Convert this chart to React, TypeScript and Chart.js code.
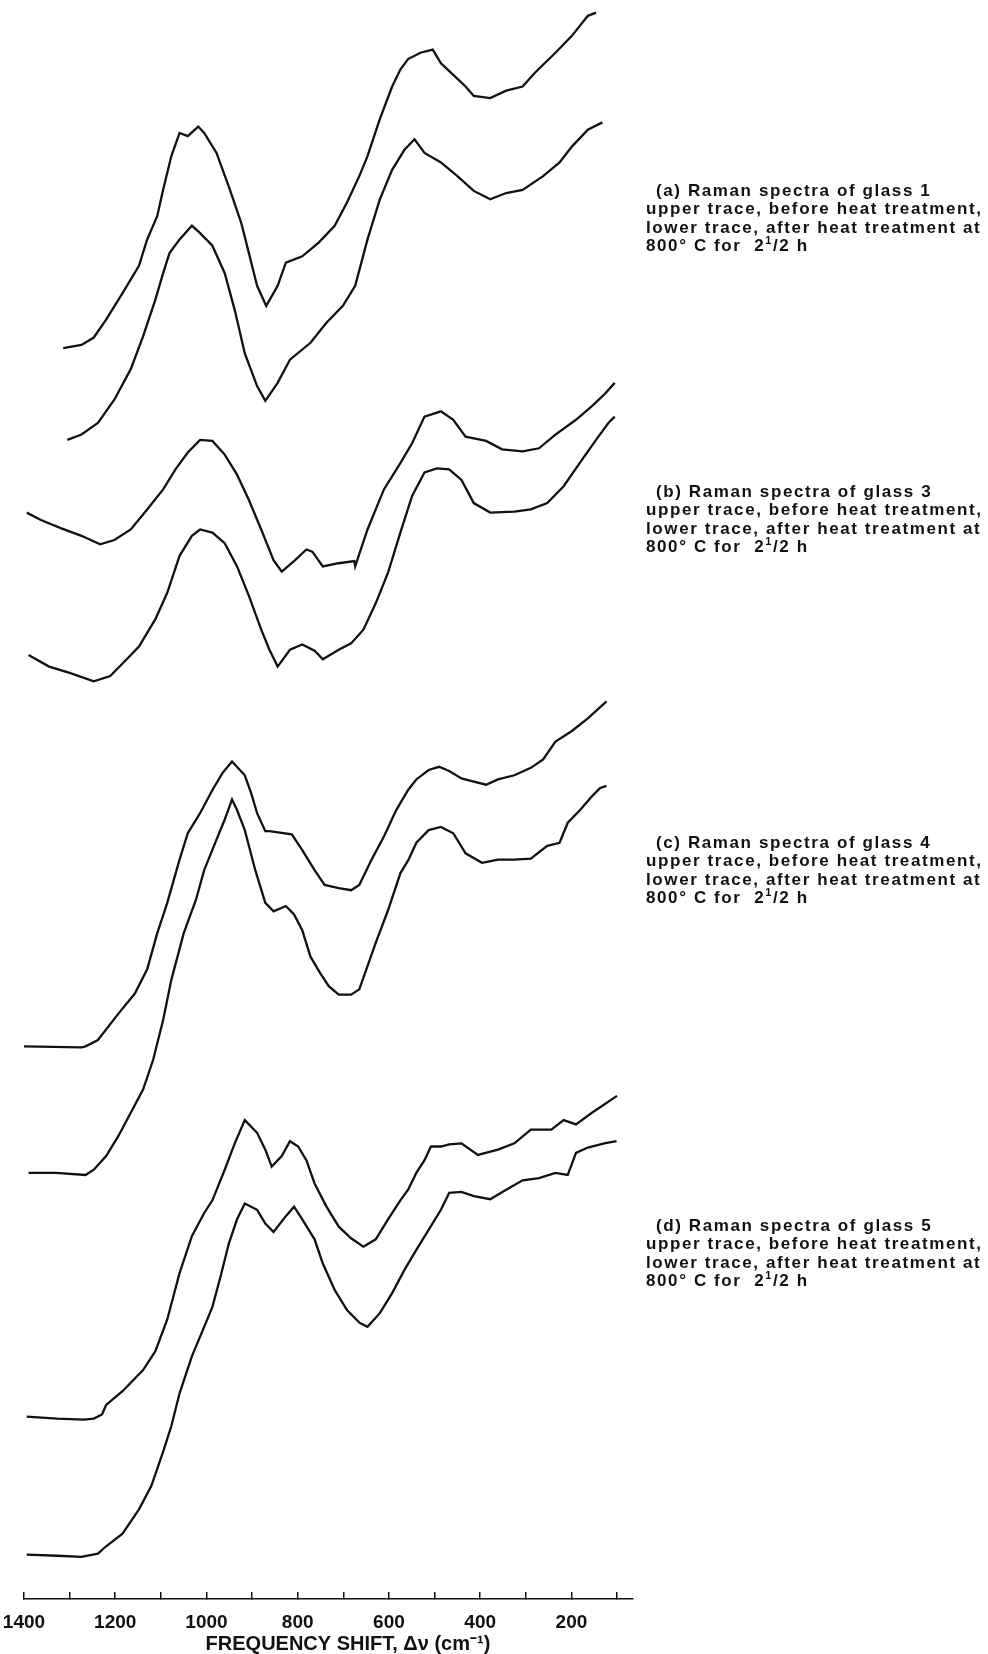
import React, { useEffect, useRef } from 'react';
import { Chart, registerables } from 'chart.js';

Chart.register(...registerables);

// Raman shift (cm^-1) vs. intensity (arbitrary units, traces offset vertically)
const GLASS1_BEFORE: [number, number][] = [[1314,1186],[1274,1189],[1247,1196],[1220,1213],[1184,1238],[1148,1264],[1130,1289],[1108,1311],[1095,1336],[1077,1368],[1059,1390],[1041,1387],[1018,1396],[1005,1390],[978,1371],[951,1339],[924,1305],[907,1276],[889,1245],[869,1226],[844,1245],[826,1267],[790,1273],[754,1286],[719,1302],[692,1324],[665,1349],[647,1368],[620,1403],[593,1434],[575,1450],[558,1460],[531,1466],[504,1469],[486,1456],[459,1445],[432,1434],[414,1425],[378,1423],[343,1430],[307,1434],[280,1447],[235,1466],[199,1482],[164,1501],[146,1504]];
const GLASS1_AFTER: [number, number][] = [[1305,1099],[1274,1104],[1238,1115],[1202,1137],[1166,1166],[1139,1197],[1112,1232],[1095,1257],[1081,1276],[1059,1289],[1032,1302],[1014,1295],[987,1283],[960,1257],[938,1222],[916,1181],[889,1150],[871,1136],[844,1153],[817,1175],[772,1191],[737,1210],[701,1226],[674,1245],[647,1289],[620,1327],[593,1355],[566,1374],[544,1384],[522,1371],[486,1362],[450,1349],[414,1335],[378,1327],[343,1333],[307,1336],[262,1349],[226,1362],[199,1377],[164,1393],[132,1400]];
const GLASS3_BEFORE: [number, number][] = [[1394,1030],[1363,1023],[1318,1015],[1274,1008],[1233,1000],[1202,1004],[1166,1014],[1130,1033],[1095,1052],[1068,1071],[1041,1087],[1014,1099],[987,1098],[960,1085],[933,1066],[907,1042],[880,1014],[853,985],[835,974],[808,984],[781,995],[768,993],[745,979],[710,982],[676,984],[674,979],[647,1014],[611,1052],[575,1077],[549,1096],[522,1121],[486,1126],[459,1118],[432,1102],[387,1098],[352,1090],[307,1088],[271,1091],[235,1104],[190,1118],[155,1131],[128,1142],[105,1153]];
const GLASS3_AFTER: [number, number][] = [[1390,895],[1345,884],[1300,878],[1247,870],[1211,875],[1184,887],[1148,903],[1112,929],[1086,954],[1059,989],[1032,1008],[1014,1014],[987,1011],[960,1001],[933,979],[907,951],[880,919],[862,900],[844,884],[817,900],[790,905],[763,899],[745,891],[710,900],[683,906],[656,919],[629,944],[602,973],[575,1011],[549,1046],[522,1068],[495,1072],[468,1071],[441,1061],[414,1039],[378,1030],[325,1031],[289,1033],[253,1039],[217,1055],[182,1077],[146,1099],[119,1115],[105,1121]];
const GLASS4_BEFORE: [number, number][] = [[1400,524],[1274,523],[1265,524],[1238,530],[1193,555],[1157,574],[1130,597],[1108,631],[1086,660],[1059,701],[1041,726],[1014,745],[987,767],[965,783],[944,794],[916,781],[902,764],[889,745],[871,728],[862,728],[813,725],[790,710],[763,691],[741,677],[710,674],[683,672],[665,677],[638,701],[611,723],[584,748],[558,767],[540,777],[513,786],[490,789],[468,785],[441,778],[414,775],[387,772],[361,777],[325,781],[289,788],[262,796],[235,813],[199,823],[164,835],[123,851]];
const GLASS4_AFTER: [number, number][] = [[1390,404],[1330,404],[1265,402],[1247,407],[1220,420],[1193,439],[1166,461],[1139,483],[1117,511],[1095,549],[1077,587],[1050,631],[1023,663],[1005,691],[978,720],[960,739],[944,758],[933,748],[916,729],[893,691],[871,660],[853,652],[826,657],[808,649],[790,634],[772,609],[750,593],[732,581],[710,573],[683,573],[665,578],[647,600],[629,622],[602,653],[575,688],[557,701],[540,717],[513,729],[486,732],[459,726],[432,707],[396,698],[361,701],[325,701],[289,702],[253,714],[226,717],[208,736],[181,748],[155,761],[137,769],[123,771]];
const GLASS5_BEFORE: [number, number][] = [[1394,173],[1327,171],[1269,170],[1247,171],[1229,175],[1220,184],[1184,197],[1139,217],[1112,235],[1086,265],[1059,309],[1032,344],[1005,366],[987,378],[960,407],[938,432],[916,454],[889,442],[871,426],[857,410],[835,420],[817,434],[799,429],[781,416],[763,394],[737,372],[710,353],[683,342],[656,334],[629,341],[602,360],[575,378],[558,388],[540,404],[522,416],[508,429],[486,429],[468,431],[441,432],[405,421],[361,426],[325,432],[289,445],[244,445],[217,454],[190,450],[155,461],[100,477]];
const GLASS5_AFTER: [number, number][] = [[1394,42],[1327,41],[1274,40],[1238,43],[1220,50],[1184,62],[1148,85],[1121,107],[1094,141],[1077,164],[1059,195],[1032,230],[1005,258],[987,277],[969,306],[951,337],[933,360],[916,375],[889,369],[871,356],[853,348],[826,363],[808,372],[790,360],[763,341],[745,318],[719,293],[692,274],[665,262],[647,258],[620,271],[593,290],[566,312],[540,331],[513,350],[486,369],[468,385],[441,386],[414,382],[378,379],[343,388],[307,397],[271,399],[235,404],[208,402],[190,423],[164,428],[128,432],[101,434]];

const TICK_VALUES = [1400, 1300, 1200, 1100, 1000, 900, 800, 700, 600, 500, 400, 300, 200, 100];
const TICK_LABELS = ['1400', '1200', '1000', '800', '600', '400', '200'];
const X_MIN = 65;
const X_MAX = 1400;
const Y_MAX = 1516;

const TRACES: [string, [number, number][]][] = [
  ['glass 1, before', GLASS1_BEFORE],
  ['glass 1, after', GLASS1_AFTER],
  ['glass 3, before', GLASS3_BEFORE],
  ['glass 3, after', GLASS3_AFTER],
  ['glass 4, before', GLASS4_BEFORE],
  ['glass 4, after', GLASS4_AFTER],
  ['glass 5, before', GLASS5_BEFORE],
  ['glass 5, after', GLASS5_AFTER],
];

const CAPTIONS: [string, string, number][] = [
  ['(a)', '1', 182],
  ['(b)', '3', 483],
  ['(c)', '4', 834],
  ['(d)', '5', 1217],
];

const INK = '#111';
const FONT = '"Liberation Sans", Arial, sans-serif';
const NB = '\u00a0';

export default function App() {
  const ref = useRef<HTMLCanvasElement>(null);

  useEffect(() => {
    const chart = new Chart(ref.current as HTMLCanvasElement, {
      type: 'line',
      data: {
        datasets: TRACES.map(([label, pts]) => ({
          label,
          data: pts.map(([x, y]) => ({ x, y })),
          borderColor: INK,
          borderWidth: 2.3,
          pointRadius: 0,
          tension: 0,
          fill: false,
        })),
      },
      options: {
        responsive: false,
        animation: false,
        devicePixelRatio: 1,
        layout: { padding: { left: 24, right: 355, top: 0, bottom: 0 } },
        plugins: { legend: { display: false }, tooltip: { enabled: false } },
        scales: {
          x: {
            type: 'linear',
            reverse: true,
            min: X_MIN,
            max: X_MAX,
            afterBuildTicks: (s: any) => {
              s.ticks = TICK_VALUES.map((v) => ({ value: v }));
            },
            afterFit: (s: any) => {
              s.paddingLeft = 0;
              s.paddingRight = 0;
              s.height = 55;
            },
            grid: { drawOnChartArea: false, drawTicks: true, tickLength: -7, color: INK, lineWidth: 1.5 },
            border: { display: true, color: INK, width: 1.5 },
            ticks: {
              autoSkip: false,
              maxRotation: 0,
              padding: 19,
              color: INK,
              font: { family: FONT, size: 19, weight: 'bold' },
              callback: (v: any) => (TICK_LABELS.includes(String(v)) ? String(v) : ''),
            },
            title: {
              display: true,
              text: NB.repeat(7) + 'FREQUENCY SHIFT, Δν (cm⁻¹)',
              color: INK,
              font: { family: FONT, size: 20, weight: 'bold', lineHeight: 1 },
              padding: { top: 0, bottom: 0 },
            },
          },
          y: { display: false, min: 0, max: Y_MAX },
        },
      },
    });
    return () => chart.destroy();
  }, []);

  return (
    <div style={{ position: 'absolute', left: 0, top: 0, width: 988, height: 1654, background: '#fff' }}>
      <canvas ref={ref} width={988} height={1654} style={{ width: 988, height: 1654, display: 'block' }} />
      {CAPTIONS.map(([tag, glass, top]) => (
        <div
          key={tag}
          style={{
            position: 'absolute',
            left: 646,
            top,
            fontFamily: FONT,
            fontWeight: 'bold',
            fontSize: 17,
            lineHeight: '18.4px',
            letterSpacing: '1.6px',
            color: INK,
            whiteSpace: 'nowrap',
          }}
        >
          <div style={{ paddingLeft: 10 }}>{tag} Raman spectra of glass {glass}</div>
          <div>upper trace, before heat treatment,</div>
          <div>lower trace, after heat treatment at</div>
          <div>
            800° C for&nbsp; 2<sup style={{ fontSize: 11, lineHeight: 0 }}>1</sup>/2 h
          </div>
        </div>
      ))}
    </div>
  );
}
